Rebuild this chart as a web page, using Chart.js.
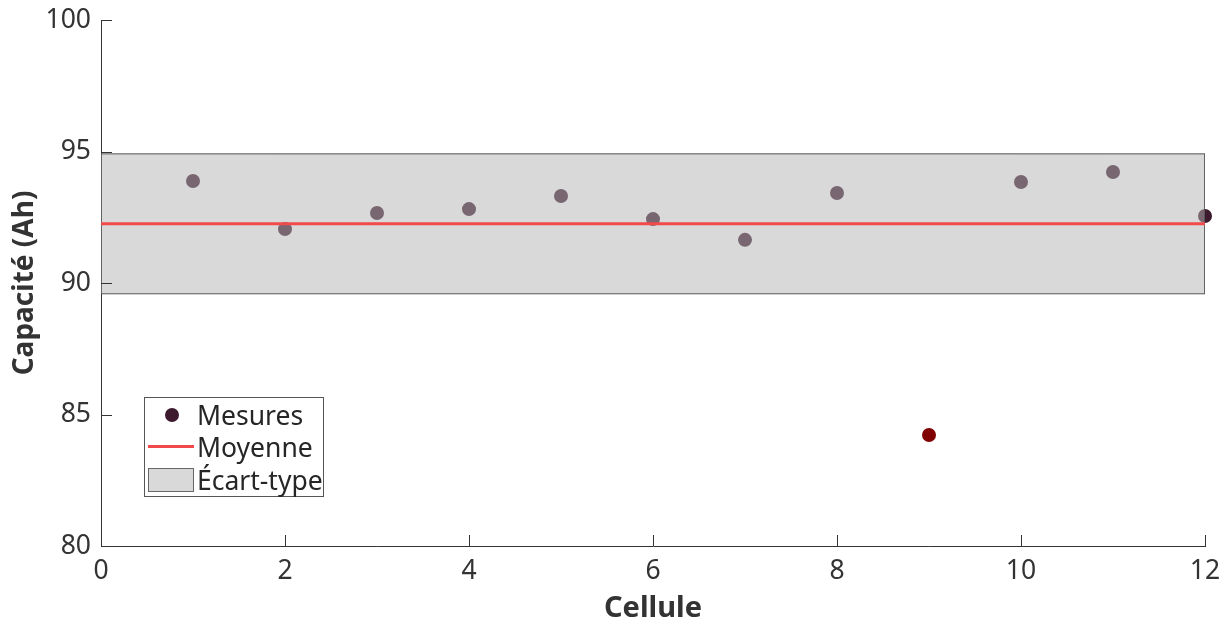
<!DOCTYPE html>
<html lang="fr">
<head>
<meta charset="utf-8">
<title>Capacité des cellules</title>
<script src="https://cdn.jsdelivr.net/npm/chart.js@4"></script>
<style>
    body { margin: 0; background: #fff; font-family: 'Noto Sans', sans-serif; }
    .wrap { position: relative; width: 1231px; height: 623px; }
    .legend {
        position: absolute; left: 144px; top: 397px; width: 178px; height: 98px;
        border: 1px solid #555; background: #fff; color: #262626; font-size: 26.5px;
    }
    .legend .row { position: absolute; left: 0; height: 32px; width: 100%; }
    .legend .label { position: absolute; left: 52px; top: 50%; transform: translateY(-50%); line-height: 1; white-space: nowrap; }
    .legend .dot { position: absolute; left: 20px; top: 9px; width: 14px; height: 14px; border-radius: 50%; background: #3d1a2e; }
    .legend .line { position: absolute; left: 3px; top: 14px; width: 46px; height: 3px; background: #f24a4a; }
    .legend .box { position: absolute; left: 3px; top: 4px; width: 44px; height: 22px; background: #d9d9d9; border: 1px solid #666; }
</style>
</head>
<body>
<div class="wrap">
    <canvas id="chart" width="1231" height="623"></canvas>
    <div class="legend">
        <div class="row" style="top:1px"><span class="dot"></span><span class="label">Mesures</span></div>
        <div class="row" style="top:33px"><span class="line"></span><span class="label">Moyenne</span></div>
        <div class="row" style="top:66px"><span class="box"></span><span class="label">Écart-type</span></div>
    </div>
</div>
<script>
const cellules = [1, 2, 3, 4, 5, 6, 7, 8, 9, 10, 11, 12];
const capacites = [93.88, 92.05, 92.66, 92.81, 93.31, 92.43, 91.64, 93.42, 84.22, 93.84, 94.22, 92.55];
const moyenne = 92.25;
const ecartType = 2.66;
const xTicks = [0, 2, 4, 6, 8, 10, 12];
const yTicks = [80, 85, 90, 95, 100];

const AXIS_COLOR = '#333';
const POINT_COLOR = '#3d1a2e';
const OUTLIER_COLOR = '#800000';

const xMin = xTicks[0];
const xMax = xTicks[xTicks.length - 1];
const bandLow = moyenne - ecartType;
const bandHigh = moyenne + ecartType;

// mesures hors de la bande en rouge foncé
const pointColors = capacites.map((v) => (v < bandLow || v > bandHigh ? OUTLIER_COLOR : POINT_COLOR));

const inwardTicks = {
    id: 'inwardTicks',
    afterDraw(chart) {
        const { ctx, scales: { x, y } } = chart;
        ctx.save();
        ctx.strokeStyle = AXIS_COLOR;
        ctx.lineWidth = 1;
        ctx.beginPath();
        x.ticks.forEach((t) => {
            const px = Math.round(x.getPixelForValue(t.value)) + 0.5;
            ctx.moveTo(px, y.bottom);
            ctx.lineTo(px, y.bottom - 11);
        });
        y.ticks.forEach((t) => {
            const py = Math.round(y.getPixelForValue(t.value)) + 0.5;
            ctx.moveTo(x.left, py);
            ctx.lineTo(x.left + 11, py);
        });
        ctx.stroke();
        ctx.restore();
    },
};

const font = { family: "'Noto Sans', sans-serif", size: 26.5 };
const titleFont = { family: "'Noto Sans', sans-serif", size: 28, weight: 'bold' };

new Chart(document.getElementById('chart'), {
    type: 'scatter',
    data: {
        datasets: [
            {
                label: 'Moyenne',
                type: 'line',
                data: [{ x: xMin, y: moyenne }, { x: xMax, y: moyenne }],
                borderColor: '#f24a4a',
                borderWidth: 3,
                pointRadius: 0,
                fill: false,
                order: 0,
            },
            {
                label: 'Écart-type',
                type: 'line',
                data: [
                    { x: xMin, y: bandLow },
                    { x: xMin, y: bandHigh },
                    { x: xMax, y: bandHigh },
                    { x: xMax, y: bandLow },
                    { x: xMin, y: bandLow },
                ],
                borderColor: '#555',
                borderWidth: 1,
                backgroundColor: 'rgba(180, 180, 180, 0.5)',
                pointRadius: 0,
                tension: 0,
                fill: 'shape',
                order: 1,
            },
            {
                label: 'Mesures',
                data: cellules.map((c, i) => ({ x: c, y: capacites[i] })),
                pointRadius: 7,
                pointBackgroundColor: pointColors,
                pointBorderWidth: 0,
                clip: false,
                order: 2,
            },
        ],
    },
    options: {
        responsive: false,
        animation: false,
        layout: { padding: { top: 20, right: 26, left: 0, bottom: 0 } },
        plugins: {
            legend: { display: false },
            tooltip: { enabled: false },
        },
        scales: {
            x: {
                type: 'linear',
                min: xMin,
                max: xMax,
                afterBuildTicks: (scale) => { scale.ticks = xTicks.map((v) => ({ value: v })); },
                afterFit: (scale) => {
                    scale.height = 77;
                    scale.paddingLeft = 0;
                    scale.paddingRight = 0;
                },
                grid: { display: true, drawOnChartArea: false, drawTicks: false },
                border: { display: true, color: AXIS_COLOR, width: 1 },
                ticks: { font, color: AXIS_COLOR, padding: 10, maxRotation: 0 },
                title: {
                    display: true,
                    text: 'Cellule',
                    font: { ...titleFont, size: 29, lineHeight: 0.95 },
                    color: AXIS_COLOR,
                    padding: { top: 0, bottom: 0 },
                },
            },
            y: {
                min: yTicks[0],
                max: yTicks[yTicks.length - 1],
                afterBuildTicks: (scale) => { scale.ticks = yTicks.map((v) => ({ value: v })); },
                afterFit: (scale) => {
                    scale.width = 101;
                    scale.paddingTop = 0;
                    scale.paddingBottom = 0;
                },
                grid: { display: true, drawOnChartArea: false, drawTicks: false },
                border: { display: true, color: AXIS_COLOR, width: 1 },
                ticks: { font, color: AXIS_COLOR, padding: 10 },
                title: { display: true, text: 'Capacité (Ah)', font: titleFont, color: AXIS_COLOR, padding: { top: 8, bottom: 0 } },
            },
        },
    },
    plugins: [inwardTicks],
});
</script>
</body>
</html>
